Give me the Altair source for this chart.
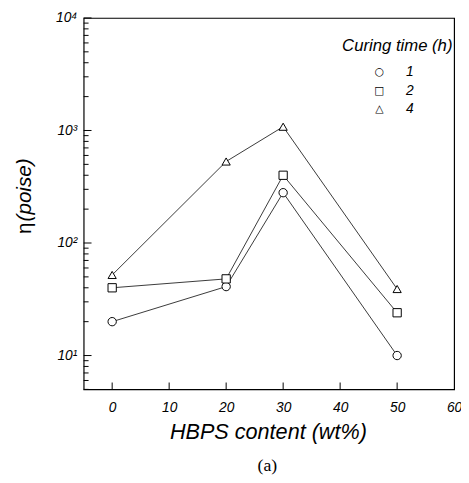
import altair as alt
import pandas as pd

# ---- data ----
hbps = [0, 20, 30, 50]
curing = ["1", "2", "4"]
eta_1h = [20, 41, 280, 10]
eta_2h = [40, 48, 400, 24]
eta_4h = [52, 530, 1080, 39]
legend_glyphs = ["\u25cb", "\u25a1", "\u25b3"]

x_ticks = [0, 10, 20, 30, 40, 50, 60]
x_inner_ticks = [0, 10, 20, 30, 40, 50]
y_major = [10, 100, 1000, 10000]
y_minor = [5, 6, 7, 8, 9,
           20, 30, 40, 50, 60, 70, 80, 90,
           200, 300, 400, 500, 600, 700, 800, 900,
           2000, 3000, 4000, 5000, 6000, 7000, 8000, 9000]

rows = []
for c, vals in zip(curing, [eta_1h, eta_2h, eta_4h]):
    for xv, yv in zip(hbps, vals):
        rows.append({"hbps": xv, "eta": yv, "curing": c})
df = pd.DataFrame(rows)

W, H = 377, 378
FONT = "Liberation Sans"

xs = alt.Scale(domain=[-5, 60], nice=False, zero=False)
ys = alt.Scale(type="log", domain=[5, 10000], nice=False)

x_axis = alt.Axis(values=x_ticks, format="d", ticks=False, domain=False,
                  grid=False, labelPadding=11, title=None,
                  labelFlush=False, labelOverlap=False)
y_axis = alt.Axis(values=y_major, ticks=False, domain=False, grid=False,
                  labelPadding=7, title=None, labelFlush=False, labelOverlap=False,
                  labelExpr="'10' + (datum.value == 10 ? '\u00b9' : datum.value == 100 ? '\u00b2' : datum.value == 1000 ? '\u00b3' : '\u2074')")

lines = alt.Chart(df).mark_line(color="#222222", strokeWidth=0.9).encode(
    x=alt.X("hbps:Q", scale=xs, axis=x_axis),
    y=alt.Y("eta:Q", scale=ys, axis=y_axis),
    detail="curing:N",
)

points = alt.Chart(df).mark_point(
    filled=False, color="black", fill="white", fillOpacity=1, strokeWidth=1, opacity=1
).encode(
    x=alt.X("hbps:Q", scale=xs, axis=x_axis),
    y=alt.Y("eta:Q", scale=ys, axis=y_axis),
    shape=alt.Shape("curing:N",
                    scale=alt.Scale(domain=curing, range=["circle", "square", "triangle-up"]),
                    legend=None),
    size=alt.Size("curing:N", scale=alt.Scale(domain=curing, range=[72, 70, 100]), legend=None),
)

ytm = alt.Chart(pd.DataFrame({"eta": y_major})).mark_rule(color="black", strokeWidth=1).encode(
    y=alt.Y("eta:Q", scale=ys, axis=y_axis), x=alt.value(0), x2=alt.value(8)
)
ytn = alt.Chart(pd.DataFrame({"eta": y_minor})).mark_rule(color="black", strokeWidth=1).encode(
    y=alt.Y("eta:Q", scale=ys, axis=y_axis), x=alt.value(0), x2=alt.value(5)
)
xt = alt.Chart(pd.DataFrame({"hbps": x_inner_ticks})).mark_rule(color="black", strokeWidth=1).encode(
    x=alt.X("hbps:Q", scale=xs, axis=x_axis), y=alt.value(H), y2=alt.value(H - 7)
)

def label(text, x, y, **kw):
    return alt.Chart(pd.DataFrame({"t": [text]})).mark_text(color="black", **kw).encode(
        text="t:N", x=alt.value(x), y=alt.value(y)
    )

ytitle_eta = label("\u03b7", -60, 214, angle=270, font=FONT,
                   fontSize=21, align="center", baseline="middle")
ytitle = label("(poise)", -60, 175, angle=270, font=FONT, fontStyle="italic",
               fontSize=21, align="center", baseline="middle")
xtitle = label("HBPS content (wt%)", 188, 421, font=FONT, fontStyle="italic",
               fontSize=22, align="center", baseline="middle")
sub = label("(a)", 187, 456, font="Liberation Serif", fontSize=18,
            align="center", baseline="middle")
legtitle = label("Curing time (h)", 263, 34, font=FONT, fontStyle="italic",
                 fontSize=17, align="left", baseline="alphabetic")
leg_sym = label("\n".join(legend_glyphs), 301, 55, font="DejaVu Sans", fontSize=11,
                align="center", baseline="middle", lineBreak="\n", lineHeight=19)
leg_lab = label("\n".join(curing), 328, 55, font=FONT, fontStyle="italic", fontSize=14,
                align="left", baseline="middle", lineBreak="\n", lineHeight=19)

chart = alt.layer(lines, points, ytm, ytn, xt, ytitle_eta, ytitle, xtitle, sub, legtitle,
                  leg_sym, leg_lab).properties(
    width=W, height=H,
    autosize="none",
    padding={"left": 77, "top": 6, "right": 7, "bottom": 85},
).configure_view(
    stroke="black", strokeWidth=1.2
).configure_axis(
    labelFont=FONT, labelFontStyle="italic", labelFontSize=14, labelColor="black"
)

chart.save("out.html", embed_options={"renderer": "svg", "actions": False})
